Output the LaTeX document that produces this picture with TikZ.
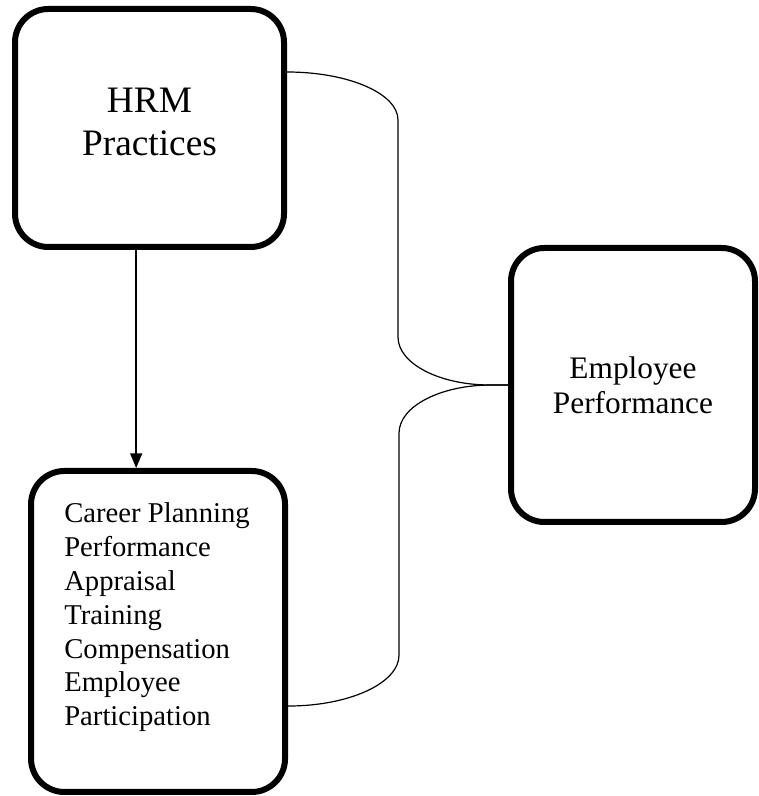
\documentclass[tikz,border=0pt]{standalone}
\usepackage{fontspec}
\setmainfont{Liberation Serif}
\usepackage{tikz}
\usetikzlibrary{positioning}
\usetikzlibrary{arrows.meta}

\begin{document}
\begin{tikzpicture}[x=0.75pt,y=0.75pt,
    block/.style={draw, line width=4.5pt, rounded corners=25pt},
    brace/.style={line width=0.9pt}]
    \useasboundingbox (0,0) rectangle (759,796);

    \node[block, minimum width=201.75pt, minimum height=178.5pt] (hrm) at (149.5,668) {};
    \node[align=center, inner sep=0pt, font=\fontsize{28}{32}\selectfont] (hrmtext)
          at ([yshift=4.5pt]hrm.center) {HRM\\Practices};
    \node[block, below=163.5pt of hrm, xshift=6.4pt,
          minimum width=190.5pt, minimum height=240.75pt] (tools) {};
    \node[below right=25.8pt and 27pt of tools.north west, inner sep=0pt, align=left,
          font=\fontsize{21.5}{25.4}\selectfont] (toollist) {Career Planning\\
            Performance\\
            Appraisal\\
            Training\\
            Compensation\\
            Employee\\
            Participation};
    \node[block, minimum width=183pt, minimum height=205.5pt, align=center,
          font=\fontsize{23.5}{26.25}\selectfont] (ep) at (633,411) {Employee\\Performance};

    \draw[line width=1.1pt, -{Triangle[length=11pt,width=9pt]}] ([xshift=-10pt]hrm.south) -- ([xshift=-10pt]hrm.south |- tools.north);

    % brace joining both boxes to the outcome
    \draw[brace] ([yshift=42pt]hrm.east) arc[start angle=90, end angle=0, x radius=83.25pt, y radius=36pt]
        -- ++(0,-217) arc[start angle=180, end angle=270, x radius=69pt, y radius=36pt] -- (ep.west);
    \draw[brace] ([yshift=-55.9pt]tools.east) arc[start angle=-90, end angle=0, x radius=83.25pt, y radius=38.25pt]
        -- ++(0,222) arc[start angle=180, end angle=90, x radius=69pt, y radius=36pt] -- (ep.west);
\end{tikzpicture}
\end{document}
